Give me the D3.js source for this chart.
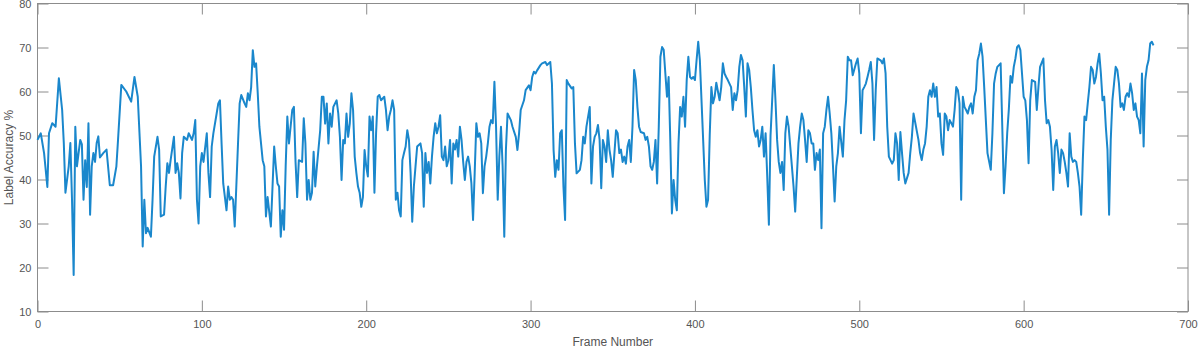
<!DOCTYPE html>
<html>
<head>
<meta charset="utf-8">
<script src="https://cdn.jsdelivr.net/npm/d3@7"></script>
<style>
  html, body { margin: 0; padding: 0; background: #fff; }
  svg { display: block; font-family: "Liberation Sans", Arial, sans-serif; }
</style>
</head>
<body>
<div id="chart"></div>
<script>
// frame numbers and label accuracy (%)
var frames = [0,2,4,6,7,9,11,13,15,16,17,19,20,21,22,23,24,26,27,28,29,30,31,32,33,34,35,36,37,38,40,42,44,46,48,49,51,54,57,59,61,63,64,65,66,67,69,70,71,73,74,75,77,78,79,80,81,83,84,85,86,87,88,89,91,92,94,95,96,97,98,99,100,101,103,104,105,106,107,109,110,111,112,113,115,116,117,118,119,120,122,123,124,126,127,128,129,130,131,132,133,134,135,137,138,139,140,142,143,144,145,146,147,148,149,150,151,152,153,155,156,157,158,159,161,162,163,164,165,166,167,168,169,170,172,173,174,175,176,177,178,179,180,182,183,184,185,186,187,188,189,190,191,192,193,194,195,196,197,198,199,200,201,202,203,204,205,206,207,208,209,211,212,213,214,215,216,217,218,219,220,221,222,223,224,225,226,227,228,229,230,231,233,234,235,236,237,238,239,240,241,242,243,244,245,246,247,248,249,250,251,252,253,254,255,256,257,258,259,260,261,262,263,264,265,266,267,268,269,270,271,272,273,274,275,276,277,278,279,280,281,282,283,284,285,286,288,289,291,292,293,294,296,297,299,300,301,302,303,304,306,307,309,310,312,313,314,315,316,317,318,319,320,321,322,323,325,326,327,328,330,331,332,333,334,336,337,338,339,340,341,342,343,344,345,346,347,348,349,350,352,353,354,355,356,357,358,359,360,361,362,363,364,365,366,367,369,370,371,372,373,374,375,376,377,378,379,380,381,382,383,384,385,386,387,388,389,390,391,392,393,394,395,396,397,398,399,400,401,402,403,404,405,406,407,408,409,410,411,412,413,414,415,416,417,418,419,420,422,423,424,425,426,427,428,429,430,431,432,433,434,435,436,437,438,439,440,441,442,443,444,445,446,447,448,449,450,451,452,453,454,455,456,457,458,459,460,461,462,463,464,465,466,467,468,469,470,471,472,473,474,475,476,477,478,479,480,481,482,483,484,485,486,487,488,490,491,492,493,494,495,496,498,499,500,501,502,503,504,505,506,507,508,509,510,511,513,514,515,516,517,518,520,521,522,523,524,525,526,527,528,530,531,532,533,534,535,536,537,538,539,540,541,542,543,544,545,546,547,548,549,550,551,552,553,554,555,556,557,558,559,560,561,562,563,564,565,566,567,568,569,570,571,572,573,574,575,576,577,578,580,581,582,583,584,585,586,587,588,589,590,591,592,593,594,595,596,597,598,599,600,601,602,603,604,605,607,608,609,610,612,613,614,615,616,617,618,619,620,621,622,623,624,625,626,627,628,629,630,631,632,633,634,635,636,637,638,639,640,641,642,643,644,645,646,647,648,649,650,651,652,653,654,655,656,657,658,659,660,661,662,663,664,665,666,667,668,669,670,671,672,673,674,675,676,677,678,679];
var accuracy = [49,50.5,46,38.3,50.5,52.8,52,63,55.8,48.3,37,43,48.3,35.4,18.3,52,43,49,48,35.4,44.4,38.3,52.8,32,43,46,44,48.3,49.8,45,46,46.8,38.7,38.7,43,49,61.5,60,57.7,63.3,58.8,43,24.8,35.4,27.8,29,27,35.4,45.2,49.7,46.8,31.6,32,38.4,43.7,41.5,44.4,49.7,41.5,43.7,41.5,35.7,46,49.7,49,50.5,49,50.5,53.5,35.4,30,43,46,44,50.5,41.5,36,47.5,50.5,55,57.3,58,48.2,39.1,33,38.4,35.4,36,35.4,29.3,48.2,57.3,59.2,57.3,56.5,59.6,58,61,69.4,65.6,66.4,59.6,52,44.4,43,31.6,36,29.3,38.4,47.5,43,39.1,38.4,27,33,28.6,43,54.3,48.2,55.8,56.5,44,36,44.4,44,53.9,48.2,35.4,39.9,35.4,37,46.3,38.4,43,51.2,58.8,58.8,52.7,57.3,48.2,55,52,56.5,58,55,49.7,39.9,49,48.2,55,49.7,52.7,59.6,55.8,45.2,41.5,38.4,37,33.8,36,46.7,43,40.7,54.3,51.2,54.3,37,50.5,58.8,59.2,58,58.8,55.8,51.2,54.3,55.8,58,55.8,35.4,37,33,31.6,44.4,46,47.5,51.2,49,41.5,30.4,38.4,43,47.5,48.2,46,33.8,46,41.5,44,39.1,45.2,49.7,52.8,50.5,52,54.6,45.2,44.4,47.5,43,44.4,49,39.1,48.2,46.8,49,45.2,52,49,44,39.9,44,45.2,43,39.1,30.8,41.5,52.8,49.7,50.5,48.2,36.9,43,45.2,48.2,52,53.5,52.8,62.2,52,35.4,45.2,52,43,27,46.8,55,53.5,52,49.7,46.7,50.5,55.8,58,60.3,61.4,60.3,63.3,64.5,64.1,64.8,66,66.4,66.7,66,66.7,61.8,46.7,40.6,44.4,42.2,50.5,51.2,38.4,30.8,62.6,61.8,60.7,61,48.2,41.4,42.2,44.4,49.7,48.2,52,56.5,39.1,47.5,49.7,50.5,52.4,49,38,49,47.5,44,51.2,46.8,44.4,40.6,51.2,50.5,46,46.8,44,45.2,43.6,47.5,49,44,52,64.9,62.6,56.5,52,50.8,50.5,49,49.7,47.5,43,42.2,44,49,39.1,52,67.9,70.1,69.5,64.1,58.8,63.3,49,32.3,39.9,35.4,33,48.2,56.5,54.3,58.8,52,62.6,67.9,63.3,62.9,63.3,62.6,67.1,71.3,67.1,58,49,39.9,33.8,35.4,50,61,57.3,58.8,62,60,58,61,66.4,64.1,63.3,62.6,61,55.8,59.6,58,60.3,65.6,68.3,67.1,61,54.3,66.4,64.9,61,55.8,51.2,49.7,51.2,47.5,49,52,45.2,50.5,40.6,29.7,50,58,66,58,49,44,41.5,44,37.6,50.5,54.3,52,47.5,43,38.4,32.7,40.6,48.2,52,55,53.5,49,44,51.2,50.5,48.2,48.2,42.2,46,44.4,46.8,28.9,50.5,52,55.8,58.8,55,50.5,43,35,43,46,52,45.2,53.5,58,67.9,67.1,67.1,63.7,66.4,67.5,64.1,50.5,60.3,61,61.8,63.3,64.9,66.7,61.8,49,60.3,67.5,67.1,66.4,67.5,64.1,52,45.2,43.6,44.4,50.5,48.2,39.9,50.8,46,41.5,39.1,41.5,46,49.7,55,53,51,49,46,44.4,46.8,48.2,52,58.8,60.3,58.8,61.8,58.8,61,54.3,55,48.2,45.6,55,54.3,51.2,53.5,52.8,52,55.8,61,60.3,57.3,35.4,58.8,56.5,55.8,55,56.5,57.3,55,58.8,60.3,67.1,68.6,70.9,67.9,61,53.5,46,42.2,50.5,61.8,64.1,65.6,66,66.4,52,36.9,43,50.5,56,63.5,62,65.6,67.5,70.1,70.5,69.4,64.1,58.8,58,53.5,43.7,58,62.6,62.2,55.8,61,65.6,67.5,58,52.8,53.5,52,46.8,37.6,47.5,49,46,41.5,46.8,46,44,41.5,38.4,50.5,45.2,44,44.4,44,41.5,38.4,32,44.4,54.3,53.5,57.3,61,65.6,64.9,61.8,63.3,66.4,68.6,64.1,58,58.8,52,46.8,32,49,58,61.8,65.6,64.9,61.8,56.5,57.3,55.8,58.8,59.6,58.8,61.8,59.6,55.8,57.3,54.3,53.5,50.5,64.1,47.5,62.6,65.6,67.1,70.9,71.3,70.5];

var xTicks = [0, 100, 200, 300, 400, 500, 600, 700];
var yTicks = [10, 20, 30, 40, 50, 60, 70, 80];

var width = 1203, height = 348;
var margin = {top: 3.5, right: 15, bottom: 36.5, left: 37.5};

var svg = d3.select('#chart').append('svg')
    .attr('width', width)
    .attr('height', height);

var x = d3.scaleLinear().domain([0, 700]).range([margin.left, width - margin.right]);
var y = d3.scaleLinear().domain([10, 80]).range([height - margin.bottom, margin.top]);

var axisColor = '#8c8c8c';
var textColor = '#555';
var tickLen = 11;

// inward ticks on all four sides (box on)
function styleAxis(g) {
  g.select('.domain').remove();
  g.selectAll('.tick line').attr('stroke', axisColor);
  g.selectAll('.tick text').attr('fill', textColor).style('font-size', '11px');
}

svg.append('g')
    .attr('transform', 'translate(0,' + y(10) + ')')
    .call(d3.axisBottom(x).tickValues(xTicks).tickSizeInner(-tickLen).tickPadding(9).tickSizeOuter(0))
    .call(styleAxis);
svg.append('g')
    .attr('transform', 'translate(0,' + y(80) + ')')
    .call(d3.axisTop(x).tickValues(xTicks).tickSizeInner(-tickLen).tickSizeOuter(0).tickFormat(''))
    .call(styleAxis);
svg.append('g')
    .attr('transform', 'translate(' + x(0) + ',0)')
    .call(d3.axisLeft(y).tickValues(yTicks).tickSizeInner(-tickLen).tickPadding(6).tickSizeOuter(0))
    .call(styleAxis);
svg.append('g')
    .attr('transform', 'translate(' + x(700) + ',0)')
    .call(d3.axisRight(y).tickValues(yTicks).tickSizeInner(-tickLen).tickSizeOuter(0).tickFormat(''))
    .call(styleAxis);

svg.append('rect')
    .attr('x', x(0))
    .attr('y', y(80))
    .attr('width', x(700) - x(0))
    .attr('height', y(10) - y(80))
    .attr('fill', 'none')
    .attr('stroke', axisColor)
    .attr('stroke-width', 1);

var pts = frames.map(function(f, i) { return [f, accuracy[i]]; });

var line = d3.line()
    .x(function(d) { return x(d[0]); })
    .y(function(d) { return y(d[1]); });

svg.append('path')
    .datum(pts)
    .attr('d', line)
    .attr('fill', 'none')
    .attr('stroke', '#1a87cc')
    .attr('stroke-width', 2)
    .attr('stroke-linejoin', 'round');

svg.append('text')
    .attr('x', (x(0) + x(700)) / 2)
    .attr('y', 346)
    .attr('text-anchor', 'middle')
    .attr('fill', textColor)
    .style('font-size', '12px')
    .text('Frame Number');

svg.append('text')
    .attr('transform', 'translate(13,' + ((y(10) + y(80)) / 2) + ') rotate(-90)')
    .attr('text-anchor', 'middle')
    .attr('fill', textColor)
    .style('font-size', '12px')
    .text('Label Accuracy %');
</script>
</body>
</html>
